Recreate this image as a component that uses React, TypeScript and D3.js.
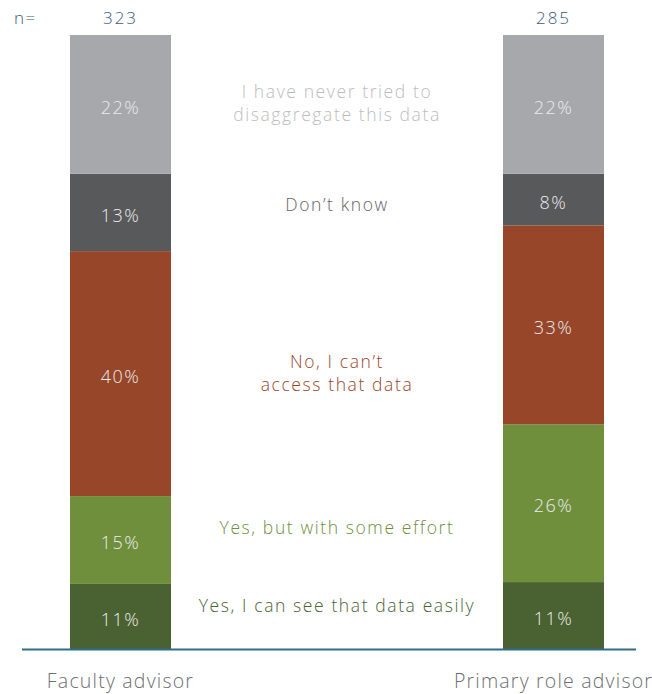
import React from "react";
import * as d3 from "d3";

const groups = ["Faculty advisor", "Primary role advisor"];
const nValues = ["323", "285"];
const categories = ["easy", "effort", "cant", "dontknow", "never"];
const categoryLabels = [
  ["Yes, I can see that data easily"],
  ["Yes, but with some effort"],
  ["No, I can\u2019t", "access that data"],
  ["Don\u2019t know"],
  ["I have never tried to", "disaggregate this data"],
];
const facultyValues = [10.6, 14.3, 39.9, 12.6, 22.6];
const primaryValues = [10.9, 25.7, 32.4, 8.4, 22.6];
const facultyLabels = ["11%", "15%", "40%", "13%", "22%"];
const primaryLabels = ["11%", "26%", "33%", "8%", "22%"];

const colors = ["#4a6231", "#6f8f3c", "#97462a", "#58595b", "#a7a8ab"];
const textColors = ["#4a6231", "#6f8f3c", "#97462a", "#636466", "#bcbdc0"];
const labelY = [606, 528, 362, 205, 92];

const W = 652;
const H = 694;
const FONT = "'Open Sans', 'Noto Sans', sans-serif";

export default function App() {
  const x = d3.scaleBand<string>().domain(groups).range([70, 604]).paddingInner(1 - 101 / 433).paddingOuter(0);
  const y = d3.scaleLinear().domain([0, 100]).range([649, 35]);
  const series = [facultyValues, primaryValues];
  const labels = [facultyLabels, primaryLabels];

  const bars = groups.map((g, gi) => {
    let acc = 0;
    return series[gi].map((v, i) => {
      const y0 = acc;
      acc += v;
      return { g, i, y0, y1: acc, label: labels[gi][i] };
    });
  });

  const midX = (x(groups[0])! + x.bandwidth() + x(groups[1])!) / 2;

  return (
    <svg width={W} height={H} style={{ position: "absolute", left: 0, top: 0, background: "#fff" }} fontFamily={FONT}>
      {bars.map((segs, gi) =>
        segs.map((s) => (
          <g key={`${gi}-${s.i}`}>
            <rect x={x(s.g)} y={y(s.y1)} width={x.bandwidth()} height={y(s.y0) - y(s.y1)} fill={colors[s.i]} />
            <text
              x={x(s.g)! + x.bandwidth() / 2}
              y={(y(s.y0) + y(s.y1)) / 2 + 3}
              dy="0.35em"
              textAnchor="middle"
              fontSize={18}
              fontWeight={300}
              letterSpacing={1.5}
              fill="#ececec"
            >
              {s.label}
            </text>
          </g>
        ))
      )}
      {categoryLabels.map((lines, i) =>
        lines.map((l, li) => (
          <text
            key={`${categories[i]}-${li}`}
            x={midX}
            y={labelY[i] + li * 22.5}
            dy="0.35em"
            textAnchor="middle"
            fontSize={17.5}
            fontWeight={300}
            letterSpacing={1.6}
            fill={textColors[i]}
          >
            {l}
          </text>
        ))
      )}
      <line x1={22} x2={636} y1={649.5} y2={649.5} stroke="#2f6d8c" strokeWidth={2} />
      <text x={14} y={18} dy="0.35em" fontSize={17} fontWeight={300} letterSpacing={1.5} fill="#3d5a7a">
        n=
      </text>
      {groups.map((g, gi) => (
        <g key={g}>
          <text x={x(g)! + x.bandwidth() / 2} y={18} dy="0.35em" textAnchor="middle" fontSize={17} fontWeight={300} letterSpacing={2} fill="#3d5a7a">
            {nValues[gi]}
          </text>
          <text x={x(g)! + x.bandwidth() / 2} y={681} dy="0.35em" textAnchor="middle" fontSize={19.5} fontWeight={300} letterSpacing={1.2} fill="#6d6e70">
            {g}
          </text>
        </g>
      ))}
    </svg>
  );
}
